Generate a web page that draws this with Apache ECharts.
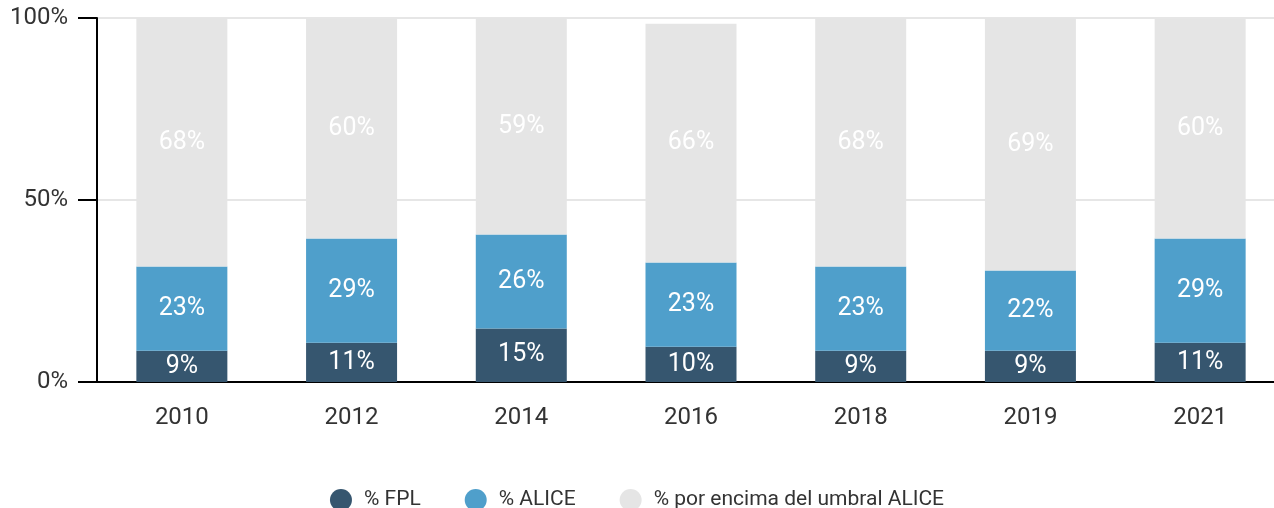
<!DOCTYPE html>
<html>
<head>
<meta charset="utf-8">
<script src="https://cdn.jsdelivr.net/npm/echarts@6/dist/echarts.min.js"></script>
<style>
  html, body { margin: 0; padding: 0; background: #fff; }
  #chart { width: 1274px; height: 508px; }
</style>
</head>
<body>
<div id="chart"></div>
<script>
// years on the x axis
const years = ['2010', '2012', '2014', '2016', '2018', '2019', '2021'];
// shares (percent)
const fpl = [8.6, 10.8, 14.7, 9.7, 8.6, 8.6, 10.8];
const alice = [23.1, 28.6, 25.8, 23.1, 23.1, 22.0, 28.6];
const above = [68.3, 60.4, 59.4, 65.6, 68.3, 69.4, 60.4];
const yTicks = [0, 50, 100];

const seriesNames = ['% FPL', '% ALICE', '% por encima del umbral ALICE'];
const colors = ['#36566f', '#4f9fcb', '#e5e5e5'];

const chart = echarts.init(document.getElementById('chart'));

const labelStyle = {
    show: true,
    position: 'inside',
    color: '#fff',
    fontFamily: 'Roboto',
    fontSize: 25,
    formatter: function (p) { return Math.round(p.value) + '%'; }
};

function makeSeries(name, data, color) {
    return {
        name: name,
        type: 'bar',
        stack: 'total',
        barWidth: 91,
        data: data,
        itemStyle: { color: color },
        label: labelStyle,
        emphasis: { disabled: true }
    };
}

const option = {
    animation: false,
    textStyle: { fontFamily: 'Roboto' },
    // plot runs past the right edge, as in the cropped original
    grid: { left: 97, top: 18, right: -11, height: 364, outerBoundsMode: 'none' },
    legend: {
        data: seriesNames,
        top: 484,
        left: 'center',
        icon: 'circle',
        itemWidth: 22,
        itemHeight: 22,
        itemGap: 44,
        textStyle: { fontSize: 21, color: '#333', fontFamily: 'Roboto', padding: [0, 0, 0, 7] }
    },
    xAxis: {
        type: 'category',
        data: years,
        axisLine: { lineStyle: { color: '#000', width: 2 } },
        axisTick: { alignWithLabel: true, length: 18, lineStyle: { color: '#000', width: 2 } },
        axisLabel: { fontSize: 24, color: '#333', margin: 24 }
    },
    yAxis: {
        type: 'value',
        min: yTicks[0],
        max: yTicks[yTicks.length - 1],
        interval: yTicks[1] - yTicks[0],
        axisLine: { show: true, lineStyle: { color: '#000', width: 2 } },
        axisTick: { show: true, length: 19, lineStyle: { color: '#000', width: 2 } },
        axisLabel: { fontSize: 24, color: '#333', margin: 29, formatter: '{value}%' },
        splitLine: { lineStyle: { color: '#e6e6e6', width: 2 } }
    },
    series: [
        makeSeries(seriesNames[0], fpl, colors[0]),
        makeSeries(seriesNames[1], alice, colors[1]),
        makeSeries(seriesNames[2], above, colors[2])
    ]
};

chart.setOption(option);
</script>
</body>
</html>
